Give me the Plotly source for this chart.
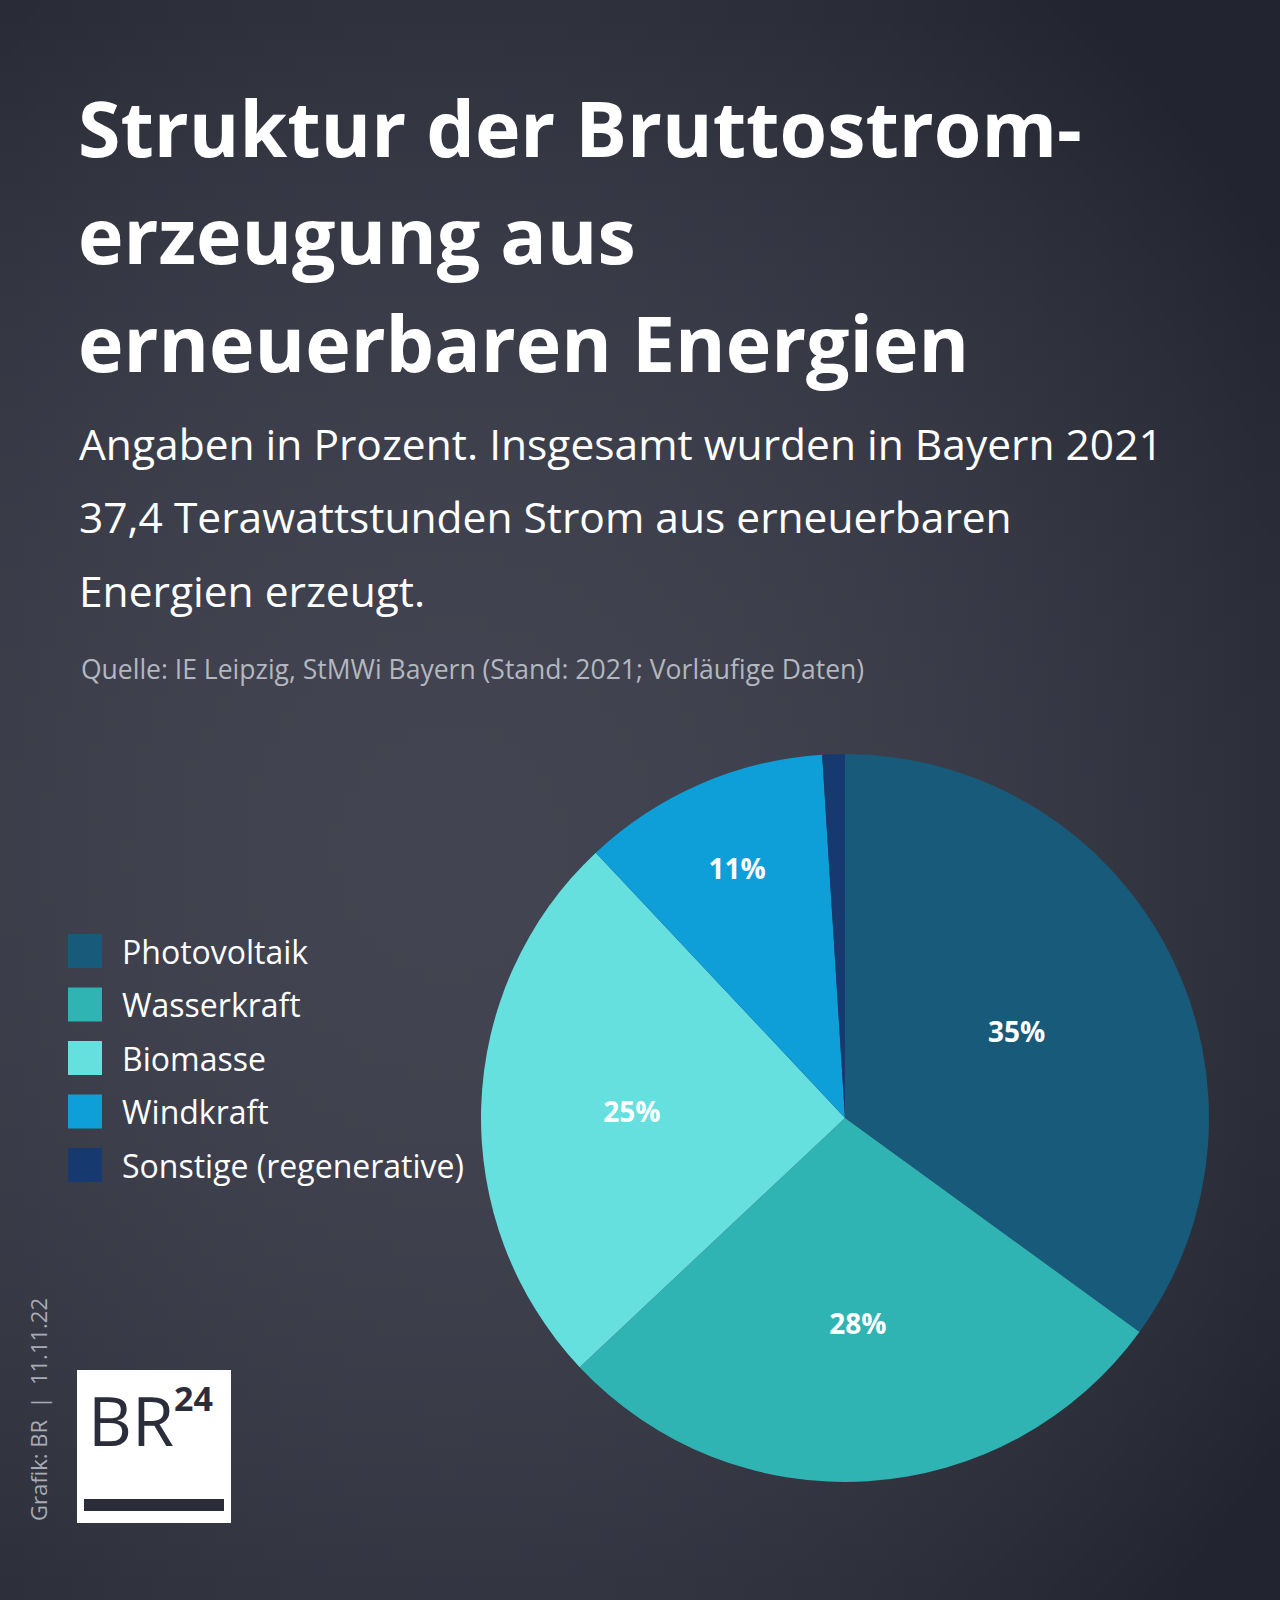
import base64
import struct
import zlib

import plotly.graph_objects as go

# ---- data ----
categories = ["Photovoltaik", "Wasserkraft", "Biomasse", "Windkraft", "Sonstige (regenerative)"]
shares = [35, 28, 25, 11, 1]
slice_labels = ["35%", "28%", "25%", "11%", ""]
colors = ["#175a7a", "#2fb3b3", "#66dfdf", "#0e9fd9", "#163a70"]

title_lines = ["Struktur der Bruttostrom-", "erzeugung aus", "erneuerbaren Energien"]
subtitle_lines = [
    "Angaben in Prozent. Insgesamt wurden in Bayern 2021",
    "37,4 Terawattstunden Strom aus erneuerbaren",
    "Energien erzeugt.",
]
source_text = "Quelle: IE Leipzig, StMWi Bayern (Stand: 2021; Vorläufige Daten)"
credit_text = "Grafik: BR  |  11.11.22"

W, H = 1280, 1600
FONT = "Open Sans"


def px(x):
    return x / W


def py(y):
    return 1 - y / H


# ---- background gradient image (radial glow), built as a tiny PNG ----
def gradient_png(gw=80, gh=100):
    base = (34, 36, 47)
    glow = (66, 68, 81)
    gx, gy, rx, ry = 450 / W, 850 / H, 1000 / W, 1100 / H
    rows = b""
    for j in range(gh):
        row = b"\x00"
        for i in range(gw):
            u = (i + 0.5) / gw
            v = (j + 0.5) / gh
            d2 = ((u - gx) / rx) ** 2 + ((v - gy) / ry) ** 2
            t = max(0.0, 1.0 - d2)
            row += bytes(int(round(b + (g - b) * t)) for b, g in zip(base, glow))
        rows += row

    def chunk(tag, data):
        c = tag + data
        return struct.pack(">I", len(data)) + c + struct.pack(">I", zlib.crc32(c) & 0xFFFFFFFF)

    png = b"\x89PNG\r\n\x1a\n"
    png += chunk(b"IHDR", struct.pack(">IIBBBBB", gw, gh, 8, 2, 0, 0, 0))
    png += chunk(b"IDAT", zlib.compress(rows, 9))
    png += chunk(b"IEND", b"")
    return "data:image/png;base64," + base64.b64encode(png).decode()


fig = go.Figure()

cx, cy, r = 845, 1118, 364
fig.add_trace(go.Pie(
    labels=categories,
    values=shares,
    text=slice_labels,
    textinfo="text",
    sort=False,
    direction="clockwise",
    rotation=0,
    marker=dict(colors=colors, line=dict(width=0)),
    textposition="inside",
    insidetextorientation="horizontal",
    textfont=dict(family=FONT, size=28, color="white", weight="bold"),
    hoverinfo="label+value",
    domain=dict(x=[px(cx - r), px(cx + r)], y=[py(cy + r), py(cy - r)]),
    showlegend=False,
))

shapes = []
annotations = []
# title
for i, t in enumerate(title_lines):
    annotations.append(dict(
        text=t, x=px(76), y=py(128 + i * 107), xref="paper", yref="paper",
        xanchor="left", yanchor="middle", showarrow=False,
        font=dict(family=FONT, size=77, color="white", weight="bold"),
    ))
# subtitle
for i, t in enumerate(subtitle_lines):
    annotations.append(dict(
        text=t, x=px(77), y=py(443 + i * 73.5), xref="paper", yref="paper",
        xanchor="left", yanchor="middle", showarrow=False,
        font=dict(family=FONT, size=42.5, color="white"),
    ))
# source
annotations.append(dict(
    text=source_text, x=px(79), y=py(669), xref="paper", yref="paper",
    xanchor="left", yanchor="middle", showarrow=False,
    font=dict(family=FONT, size=26.5, color="#b4b7bf"),
))

# legend
for i, (cat, col) in enumerate(zip(categories, colors)):
    yc = 951 + i * 53.5
    shapes.append(dict(
        type="rect", xref="paper", yref="paper",
        x0=px(68), x1=px(102), y0=py(yc + 17), y1=py(yc - 17),
        fillcolor=col, line=dict(width=0),
    ))
    annotations.append(dict(
        text=cat, x=px(120), y=py(yc), xref="paper", yref="paper",
        xanchor="left", yanchor="middle", showarrow=False,
        font=dict(family=FONT, size=32, color="white"),
    ))

# credit (vertical)
annotations.append(dict(
    text=credit_text, x=px(38), y=py(1410), xref="paper", yref="paper",
    xanchor="center", yanchor="middle", showarrow=False, textangle=-90,
    font=dict(family=FONT, size=22, color="#a8abb3"),
))

# BR24 logo
shapes.append(dict(type="rect", xref="paper", yref="paper",
                   x0=px(77), x1=px(231), y0=py(1523), y1=py(1370),
                   fillcolor="white", line=dict(width=0)))
shapes.append(dict(type="rect", xref="paper", yref="paper",
                   x0=px(84), x1=px(224), y0=py(1511), y1=py(1499),
                   fillcolor="#2b2d3b", line=dict(width=0)))
annotations.append(dict(
    text="BR", x=px(86), y=py(1419), xref="paper", yref="paper",
    xanchor="left", yanchor="middle", showarrow=False,
    font=dict(family=FONT, size=68, color="#2b2d3b"),
))
annotations.append(dict(
    text="24", x=px(172), y=py(1398), xref="paper", yref="paper",
    xanchor="left", yanchor="middle", showarrow=False,
    font=dict(family=FONT, size=34, color="#2b2d3b", weight="bold"),
))

fig.update_layout(
    width=W, height=H,
    margin=dict(l=0, r=0, t=0, b=0),
    paper_bgcolor="#22242f",
    plot_bgcolor="#22242f",
    images=[dict(
        source=gradient_png(), xref="paper", yref="paper",
        x=0, y=1, sizex=1, sizey=1, sizing="stretch",
        xanchor="left", yanchor="top", layer="below",
    )],
    shapes=shapes,
    annotations=annotations,
    showlegend=False,
)

fig.write_html(
    "out.html",
    config={"displayModeBar": False},
    post_script="document.body.style.margin='0';document.body.style.overflow='hidden';",
)
